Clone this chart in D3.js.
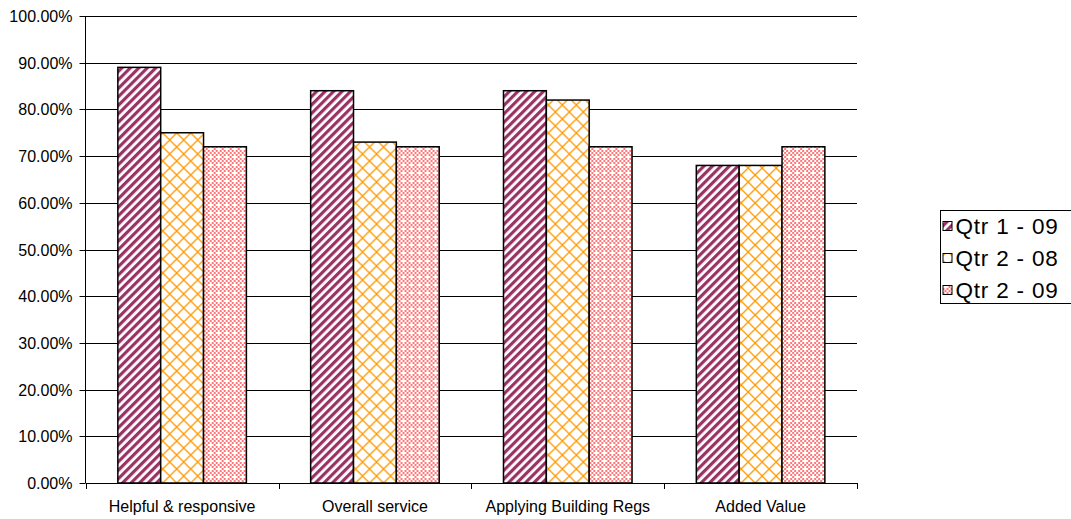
<!DOCTYPE html>
<html>
<head>
<meta charset="utf-8">
<script src="https://cdn.jsdelivr.net/npm/d3@7/dist/d3.min.js"></script>
<style>
  html, body { margin: 0; padding: 0; background: #fff; }
  svg { display: block; font-family: "Liberation Sans", Arial, sans-serif; }
</style>
</head>
<body>
<svg id="chart" width="1071" height="519"></svg>
<script>
// Survey categories and quarterly satisfaction scores (fractions)
const categories = ["Helpful & responsive", "Overall service", "Applying Building Regs", "Added Value"];
const seriesNames = ["Qtr 1 - 09", "Qtr 2 - 08", "Qtr 2 - 09"];
const qtr1_09 = [0.89, 0.84, 0.84, 0.68];
const qtr2_08 = [0.75, 0.73, 0.82, 0.68];
const qtr2_09 = [0.72, 0.72, 0.72, 0.72];
const yTicks = [0, 0.1, 0.2, 0.3, 0.4, 0.5, 0.6, 0.7, 0.8, 0.9, 1.0];

const seriesValues = [qtr1_09, qtr2_08, qtr2_09];
const fills = ["url(#stripes)", "url(#trellis)", "url(#checks)"];

const svg = d3.select("#chart");
const plotLeft = 85.7, plotRight = 857, plotTop = 16, plotBottom = 483;

// Fill patterns
const defs = svg.append("defs");
const stripes = defs.append("pattern")
  .attr("id", "stripes").attr("patternUnits", "userSpaceOnUse")
  .attr("width", 6).attr("height", 6)
  .attr("patternTransform", "rotate(45)");
stripes.append("rect").attr("width", 6).attr("height", 6).attr("fill", "#fff");
stripes.append("rect").attr("width", 3.2).attr("height", 6).attr("fill", "#993366");

const trellis = defs.append("pattern")
  .attr("id", "trellis").attr("patternUnits", "userSpaceOnUse")
  .attr("width", 14).attr("height", 14);
trellis.append("rect").attr("width", 14).attr("height", 14).attr("fill", "#fff");
trellis.append("path")
  .attr("d", "M-1,-1L15,15M15,-1L-1,15")
  .attr("stroke", "#FF9900").attr("stroke-width", 1.3).attr("fill", "none");

const checks = defs.append("pattern")
  .attr("id", "checks").attr("patternUnits", "userSpaceOnUse")
  .attr("width", 8).attr("height", 8);
checks.append("rect").attr("width", 8).attr("height", 8).attr("fill", "#fff");
for (let i = 0; i < 4; i++) {
  for (let j = 0; j < 4; j++) {
    if ((i + j) % 2 === 0 && !(i === 2 && j === 2)) {
      checks.append("rect").attr("x", i * 2).attr("y", j * 2)
        .attr("width", 2).attr("height", 2).attr("fill", "#FF7878");
    }
  }
}

// Scales
const x0 = d3.scaleBand().domain(categories).range([plotLeft, plotRight]).padding(0);
const x1 = d3.scaleBand().domain(seriesNames).range([0, x0.bandwidth()])
  .paddingInner(0).paddingOuter(0.75);
const y = d3.scaleLinear().domain([0, 1]).range([plotBottom, plotTop]);

// Horizontal gridlines
svg.append("g").selectAll("line").data(yTicks.filter(d => d > 0)).join("line")
  .attr("x1", plotLeft).attr("x2", plotRight)
  .attr("y1", d => Math.round(y(d)) + 0.5).attr("y2", d => Math.round(y(d)) + 0.5)
  .attr("stroke", "#000").attr("stroke-width", 1);

// Y axis
const yAxis = d3.axisLeft(y).tickValues(yTicks)
  .tickFormat(d => (d * 100).toFixed(2) + "%").tickSize(6).tickPadding(7);
const gy = svg.append("g").attr("transform", `translate(${Math.round(plotLeft) - 0.5},0)`)
  .call(yAxis);
gy.selectAll("text").attr("font-size", 16).attr("fill", "#000")
  .attr("font-family", "Liberation Sans, Arial, sans-serif");
gy.selectAll("line").attr("stroke", "#000");
gy.select(".domain").attr("stroke", "#000").attr("d", `M0,${plotTop}V${plotBottom}`);
gy.selectAll(".tick").attr("transform", d => `translate(0,${Math.round(y(d)) + 0.5})`);

// Bars
const groups = svg.append("g").selectAll("g").data(categories).join("g")
  .attr("transform", c => `translate(${x0(c)},0)`);
seriesNames.forEach((s, si) => {
  groups.append("rect")
    .attr("x", () => x1(s))
    .attr("y", (c, ci) => y(seriesValues[si][ci]))
    .attr("width", x1.bandwidth())
    .attr("height", (c, ci) => y(0) - y(seriesValues[si][ci]))
    .attr("fill", fills[si])
    .attr("stroke", "#000").attr("stroke-width", 1.5);
});

// X axis
const xAxis = d3.axisBottom(x0).tickSize(0).tickPadding(17);
const gx = svg.append("g").attr("transform", `translate(0,${plotBottom + 0.5})`).call(xAxis);
gx.select(".domain").attr("stroke", "#000").attr("d", `M${plotLeft},0H${plotRight}`);
gx.selectAll("text").attr("font-size", 16).attr("fill", "#000")
  .attr("font-family", "Liberation Sans, Arial, sans-serif");
// Category separator ticks
svg.append("g").selectAll("line")
  .data(categories.map(c => x0(c)).concat([plotRight])).join("line")
  .attr("x1", d => Math.round(d) + 0.5).attr("x2", d => Math.round(d) + 0.5)
  .attr("y1", plotBottom).attr("y2", plotBottom + 6)
  .attr("stroke", "#000");

// Legend
const legend = svg.append("g").attr("transform", "translate(940.5,210.5)");
legend.append("rect").attr("width", 140).attr("height", 93)
  .attr("fill", "#fff").attr("stroke", "#000");
seriesNames.forEach((s, i) => {
  const row = legend.append("g").attr("transform", `translate(0,${15.5 + i * 32})`);
  row.append("rect").attr("x", 2.5).attr("y", -4.5).attr("width", 9).attr("height", 9)
    .attr("fill", fills[i]).attr("stroke", "#000");
  row.append("text").attr("x", 15).attr("y", 0).attr("dy", "0.36em")
    .attr("font-size", 22.5).attr("letter-spacing", 0.8).attr("fill", "#000").text(s);
});
</script>
</body>
</html>
